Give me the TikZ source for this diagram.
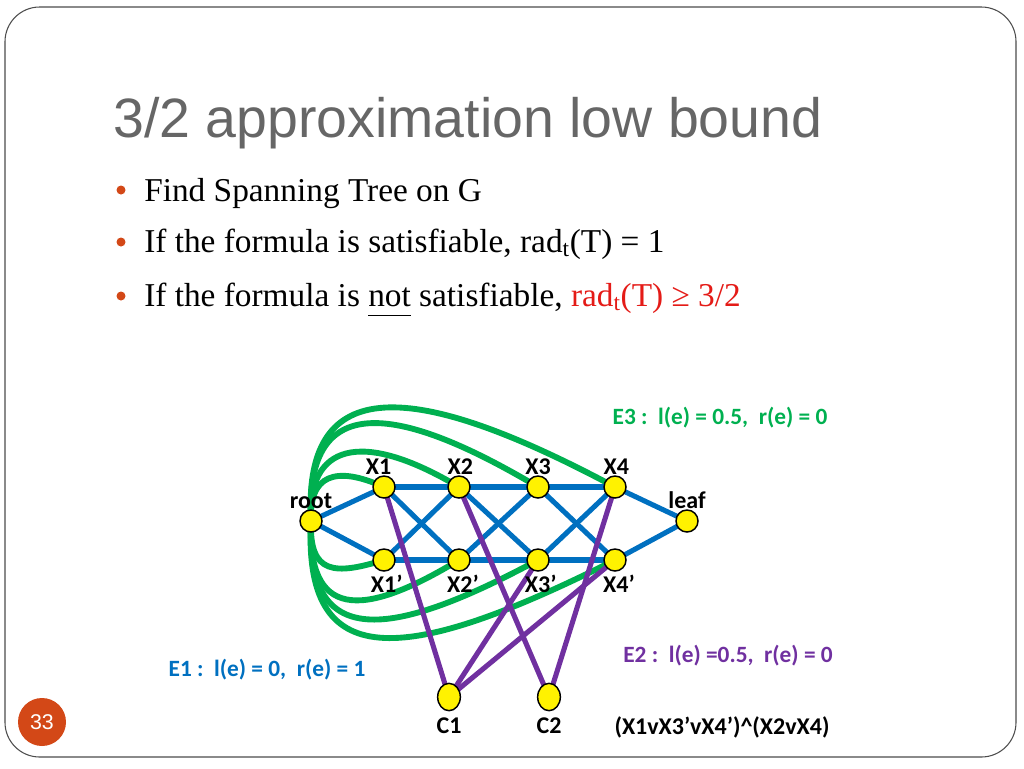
\documentclass[tikz,border=0pt]{standalone}
\usepackage{fontspec}
\setmainfont{Liberation Serif}
\newfontfamily\calibri{Carlito}
\newfontfamily\titlefont{Liberation Sans}
\usetikzlibrary{shapes.geometric}

\definecolor{edgeblue}{HTML}{0070C0}
\definecolor{edgegreen}{HTML}{00B050}
\definecolor{edgepurple}{HTML}{7030A0}
\definecolor{accent}{HTML}{D34817}
\definecolor{titlegray}{HTML}{666666}
\definecolor{alertred}{HTML}{E41B17}

\pgfdeclarelayer{edges}
\pgfsetlayers{edges,main}

\tikzset{
  vertex/.style={circle, draw=black, line width=1.1pt, fill=yellow,
    inner sep=0pt, minimum size=16.5pt},
  clause/.style={ellipse, draw=black, line width=1.1pt, fill=yellow,
    inner sep=0pt, minimum width=17pt, minimum height=20.5pt},
  vlabel/.style={font=\calibri\bfseries\fontsize{18}{18}\selectfont, inner sep=0.5pt},
  elabel/.style={font=\calibri\bfseries\fontsize{17.5}{17.5}\selectfont, inner sep=0pt},
  bullettext/.style={anchor=base west, inner sep=0pt,
    font=\fontsize{25}{25}\selectfont},
  blueedge/.style={edgeblue, line width=3.8pt},
  greenedge/.style={edgegreen, line width=4.4pt},
  purpleedge/.style={edgepurple, line width=3.8pt},
}

\begin{document}
\begin{tikzpicture}[x=0.75pt, y=-0.75pt]

  % --- slide frame ---
  \useasboundingbox (0,0) rectangle (1024,768);
  \draw[black!70, line width=0.8pt, rounded corners=26pt] (5,7) rectangle (1016,757);

  % --- title and bullets ---
  \node[anchor=base west, inner sep=0pt, text=titlegray,
    font=\titlefont\fontsize{41.6}{41.6}\selectfont] (title) at (113,137)
    {3/2 approximation low bound};

  \fill[accent] (121,190) circle (4.5);
  \fill[accent] (121,242) circle (4.5);
  \fill[accent] (121,296) circle (4.5);
  \node[bullettext] (line1) at (144,201) {Find Spanning Tree on G};
  \node[bullettext] (line2) at (144,252)
    {If the formula is satisfiable, rad\textsubscript{t}(T) = 1};
  \node[bullettext] (line3) at (144,306)
    {If the formula is \underline{not\vphantom{p}} satisfiable,
     \textcolor{alertred}{rad\textsubscript{t}(T) ≥ 3/2}};

  % --- vertices ---
  \node[vertex, label={[vlabel]above:root}] (root) at (311,521) {};
  \node[vertex, label={[vlabel, xshift=-4pt]above:X1}] (X1) at (384,487) {};
  \node[vertex, label={[vlabel, xshift=1pt]above:X2}] (X2) at (459,487) {};
  \node[vertex, label={[vlabel]above:X3}] (X3) at (538,487) {};
  \node[vertex, label={[vlabel, xshift=1pt]above:X4}] (X4) at (615,487) {};
  \node[vertex, label={[vlabel, label distance=1.5pt, xshift=2pt]below:X1’}] (X1n) at (384,560) {};
  \node[vertex, label={[vlabel, label distance=1.5pt, xshift=3pt]below:X2’}] (X2n) at (459,560) {};
  \node[vertex, label={[vlabel, label distance=1.5pt, xshift=2pt]below:X3’}] (X3n) at (538,560) {};
  \node[vertex, label={[vlabel, label distance=1.5pt, xshift=3pt]below:X4’}] (X4n) at (615,560) {};
  \node[vertex, label={[vlabel]above:leaf}] (leaf) at (687,521) {};
  \node[clause, label={[vlabel, label distance=4pt]below:C1}] (C1) at (449,697) {};
  \node[clause, label={[vlabel, label distance=4pt]below:C2}] (C2) at (549,697) {};

  % --- edge labels and formula ---
  \node[elabel, text=edgegreen] (E3) at (720,418) {E3 :\ \ l(e) = 0.5,\ \ r(e) = 0};
  \node[elabel, text=edgepurple] (E2) at (728,656) {E2 :\ \ l(e) =0.5,\ \ r(e) = 0};
  \node[elabel, text=edgeblue] (E1) at (267,670) {E1 :\ \ l(e) = 0,\ \ r(e) = 1};
  \node[vlabel] (formula) at (722,727) {(X1vX3’vX4’)\^{}(X2vX4)};

  \begin{pgfonlayer}{edges}
    % E1: ladder
    \foreach \a/\b in {root/X1, root/X1n, X1/X2, X2/X3, X3/X4,
        X1n/X2n, X2n/X3n, X3n/X4n, X1/X2n, X1n/X2, X2/X3n, X2n/X3,
        X3/X4n, X3n/X4, X4/leaf, X4n/leaf}
      \draw[blueedge] (\a.center) -- (\b.center);

    % E3: root to every literal
    \draw[greenedge] (root.center) .. controls (309,475) and (335,465) .. (X1.center);
    \draw[greenedge] (root.center) .. controls (307,445) and (360,428) .. (X2.center);
    \draw[greenedge] (root.center) .. controls (305,405) and (375,390) .. (X3.center);
    \draw[greenedge] (root.center) .. controls (303,380) and (400,372) .. (X4.center);
    \draw[greenedge] (root.center) .. controls (309,575) and (335,575) .. (X1n.center);
    \draw[greenedge] (root.center) .. controls (307,618) and (360,620) .. (X2n.center);
    \draw[greenedge] (root.center) .. controls (305,645) and (380,645) .. (X3n.center);
    \draw[greenedge] (root.center) .. controls (303,672) and (400,668) .. (X4n.center);

    % E2: literal to clause
    \foreach \a/\b in {X1/C1, X3n/C1, X4n/C1, X2/C2, X4/C2}
      \draw[purpleedge] (\a.center) -- (\b.center);
  \end{pgfonlayer}

  % --- slide number ---
  \node[circle, fill=accent, inner sep=0pt, minimum size=36pt, text=white,
    font=\titlefont\fontsize{16}{16}\selectfont] (pagenum) at (42,722) {33};

\end{tikzpicture}
\end{document}
